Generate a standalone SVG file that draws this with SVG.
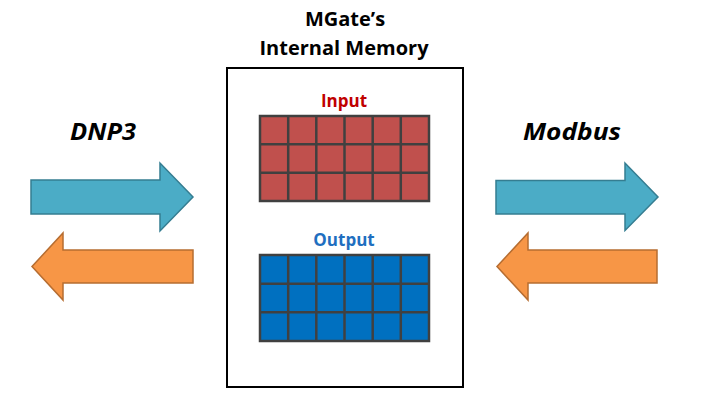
<svg xmlns="http://www.w3.org/2000/svg" width="713" height="412" viewBox="0 0 713 412">
<style>
.t{font-family:"Open Sans","Liberation Sans",sans-serif;font-weight:bold;text-anchor:middle}
.lbl{font-family:"Open Sans","Liberation Sans",sans-serif;font-weight:bold;font-style:italic;text-anchor:middle;font-size:23px;fill:#000}
.teal{fill:#4BACC6;stroke:#357D91;stroke-width:1.5}
.orange{fill:#F79646;stroke:#B66D31;stroke-width:1.5}
.grid{stroke:#404040;stroke-width:2.5}
</style>
<rect width="713" height="412" fill="#fff"/>
<g id="memory">
<text class="t" x="345" y="26" font-size="20" fill="#000">MGate’s</text>
<text class="t" x="344" y="55" font-size="20" fill="#000">Internal Memory</text>
<rect x="227" y="68" width="236" height="319" fill="#fff" stroke="#000" stroke-width="2"/>
</g>
<g id="input">
<text class="t" x="344" y="107" font-size="17" fill="#C00000">Input</text>
<rect x="260" y="116" width="169" height="85" fill="#C0504D" class="grid"/>
<path class="grid" fill="none" d="M288.2,116V201M316.3,116V201M344.5,116V201M372.7,116V201M400.8,116V201M260,144.3H429M260,172.7H429"/>
</g>
<g id="output">
<text class="t" x="344" y="246" font-size="17" fill="#1F6FC0">Output</text>
<rect x="260" y="255" width="169" height="86" fill="#0070C0" class="grid"/>
<path class="grid" fill="none" d="M288.2,255V341M316.3,255V341M344.5,255V341M372.7,255V341M400.8,255V341M260,283.7H429M260,312.3H429"/>
</g>
<g id="dnp3">
<text class="lbl" x="103" y="140" textLength="66" lengthAdjust="spacingAndGlyphs">DNP3</text>
</g>
<g id="modbus">
<text class="lbl" x="572" y="140" textLength="98" lengthAdjust="spacingAndGlyphs">Modbus</text>
</g>
<g id="connectors">
<path class="teal" d="M31,180H160V163L193,197L160,231V214H31Z"/>
<path class="orange" d="M193,250H63V233L32,266.5L63,300V283H193Z"/>
<path class="teal" d="M496,180.5H625V163L658,197L625,230.5V214H496Z"/>
<path class="orange" d="M657,250H528V233L497,266.5L528,300V283H657Z"/>
</g>
</svg>
